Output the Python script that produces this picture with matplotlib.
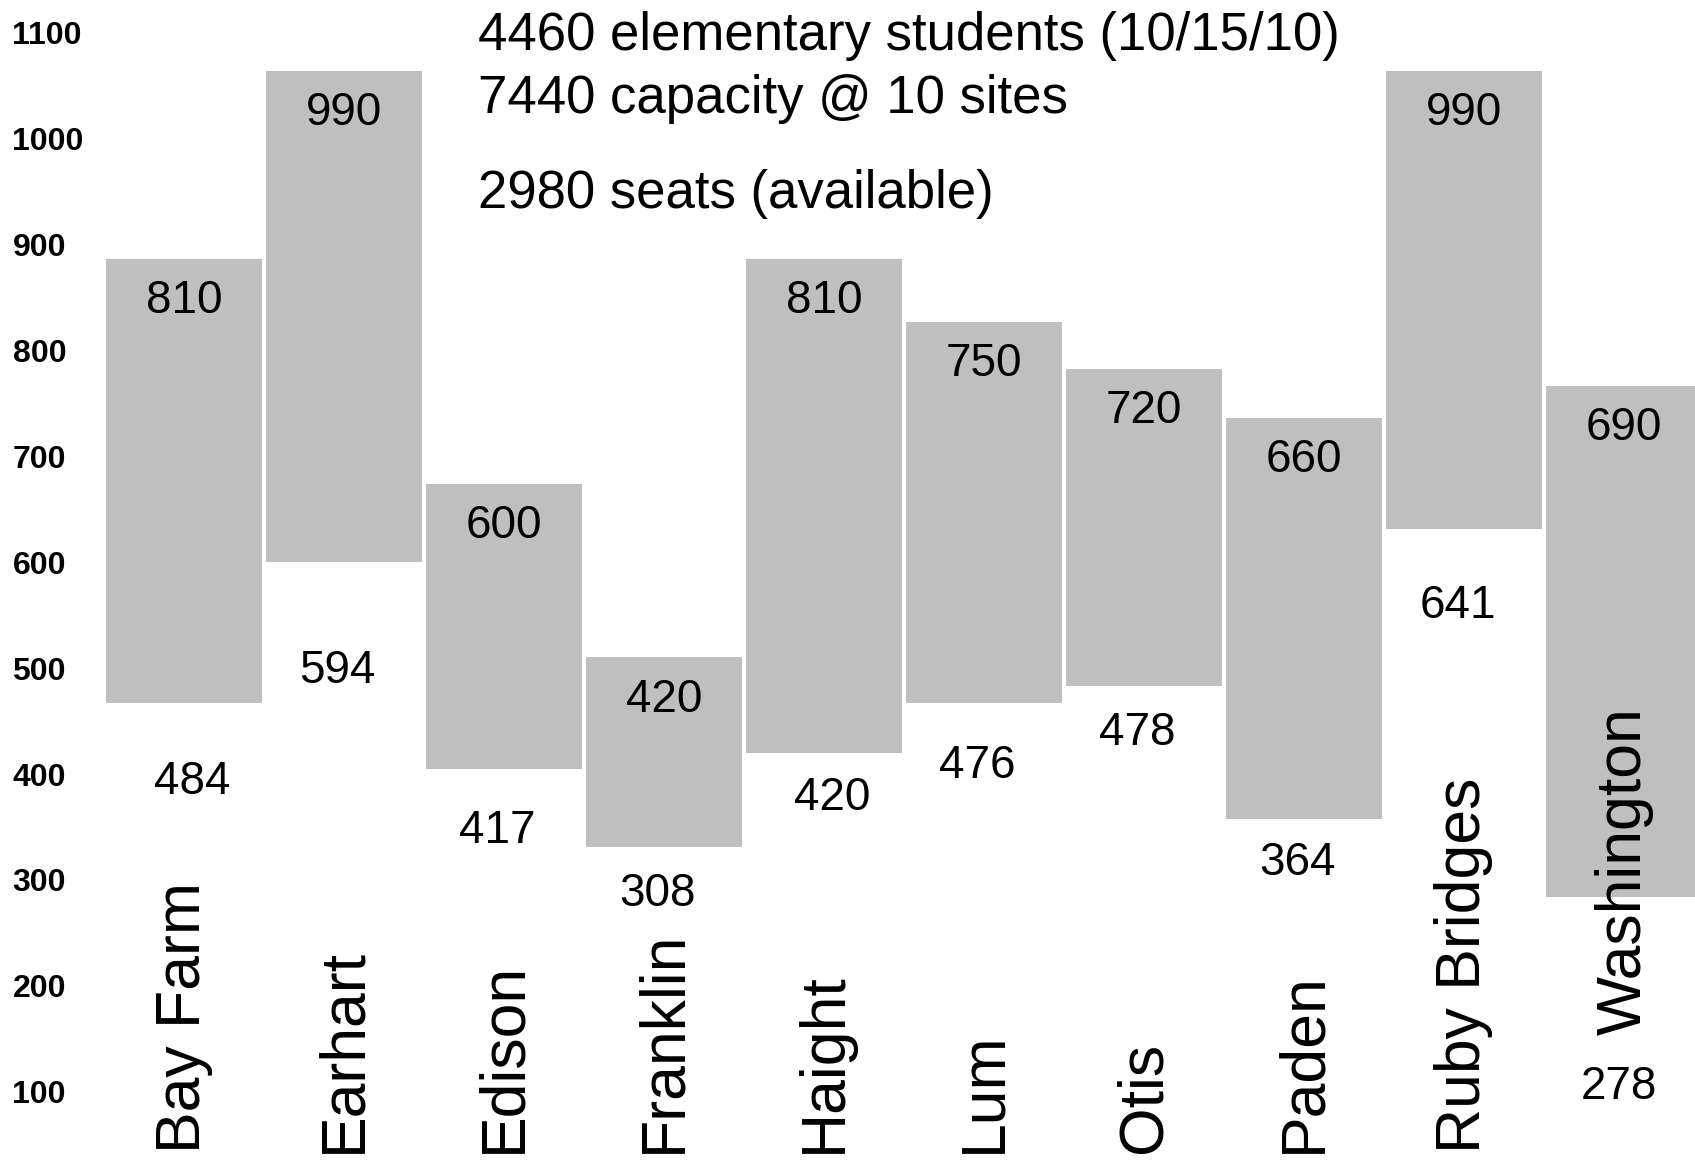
import matplotlib
matplotlib.use('Agg')
import matplotlib.pyplot as plt
import numpy as np

plt.rcParams['font.family'] = ['Liberation Sans', 'DejaVu Sans']

# school data
schools    = ['Bay Farm', 'Earhart', 'Edison', 'Franklin', 'Haight',
              'Lum', 'Otis', 'Paden', 'Ruby Bridges', 'Washington']
capacity   = [810, 990, 600, 420, 810, 750, 720, 660, 990, 690]
enrollment = [484, 594, 417, 308, 420, 476, 478, 364, 641, 278]

# bar ends as drawn
bar_top    = [886, 1064, 674, 510, 886, 827, 782, 736, 1064, 766]
bar_bottom = [467, 600, 405, 331, 420, 467, 483, 358, 631, 284]

notes = ['4460 elementary students (10/15/10)',
         '7440 capacity @ 10 sites',
         '2980 seats (available)']
yticks = [100, 200, 300, 400, 500, 600, 700, 800, 900, 1000, 1100]

# layout: baselines of the enrollment labels, and where the names start
enroll_label_y = [381, 486, 335, 275, 366, 396, 427, 305, 547, 93]
enroll_label_dx = [0.05, -0.04, -0.04, -0.04, 0.05, -0.04, -0.04, -0.04, -0.04, -0.03]
name_y = [42, 42, 42, 42, 42, 42, 42, 42, 42, 154]

fig = plt.figure(figsize=(16.95, 11.6), dpi=100)
ax = fig.add_axes([0, 0, 1, 1])

x = np.arange(len(schools))
heights = [t - b for t, b in zip(bar_top, bar_bottom)]
ax.bar(x, heights, bottom=bar_bottom, width=0.98, color='#bfbfbf', linewidth=0)

for i in range(len(schools)):
    ax.text(x[i], bar_top[i] - 51, str(capacity[i]), ha='center', va='baseline',
            fontsize=33, color='black')
    ax.text(x[i] + enroll_label_dx[i], enroll_label_y[i], str(enrollment[i]),
            ha='center', va='baseline', fontsize=33, color='black')
    ax.text(x[i], name_y[i], schools[i], ha='center', va='bottom', rotation=90,
            fontsize=45, color='black')

ax.set_xlim(-1.15, 9.444)
ax.set_ylim(35.7, 1130.6)

# y ticks drawn inside the figure
ax.set_yticks(yticks)
ax.set_yticklabels([str(t) for t in yticks], fontsize=23, fontweight='bold')
ax.tick_params(axis='y', length=0, pad=-9)
for lbl in ax.get_yticklabels():
    lbl.set_horizontalalignment('left')
ax.set_xticks([])
for s in ax.spines.values():
    s.set_visible(False)

# notes at the top
note_y = [0.957, 0.9026, 0.8207]
for txt, yy in zip(notes, note_y):
    fig.text(0.282, yy, txt, ha='left', va='baseline', fontsize=38, color='black')

fig.savefig('out.png', dpi=100)
